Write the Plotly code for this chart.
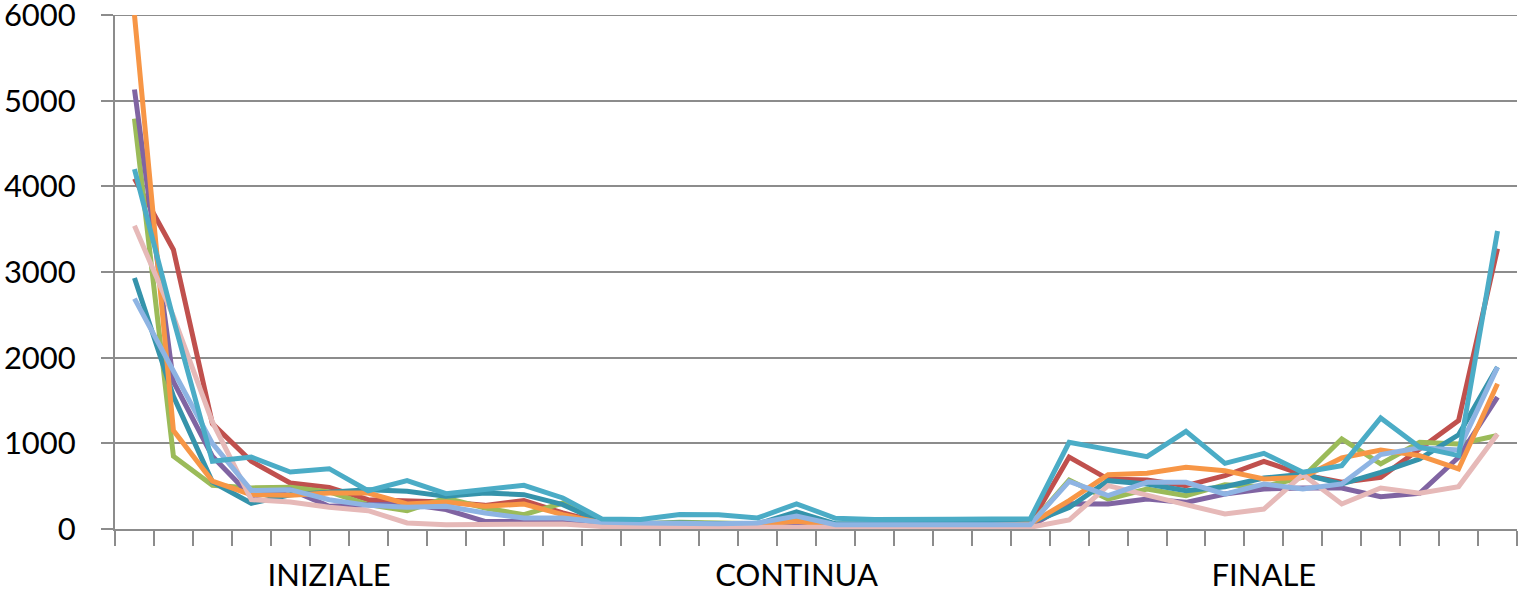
import plotly.graph_objects as go

phases = ["INIZIALE", "CONTINUA", "FINALE"]
points_per_phase = 12
y_ticks = [0, 1000, 2000, 3000, 4000, 5000, 6000]

red = [4090, 3260, 1230, 790, 537, 486, 342, 323, 315, 276, 331, 187,
       70, 50, 40, 40, 40, 60, 40, 40, 40, 40, 40, 60,
       840, 583, 572, 506, 622, 790, 635, 545, 604, 935, 1266, 3273]
green = [4790, 850, 510, 480, 486, 432, 284, 214, 362, 245, 167, 303,
         90, 60, 80, 70, 60, 100, 50, 40, 40, 40, 40, 50,
         572, 350, 467, 389, 517, 494, 604, 1052, 760, 1013, 993, 1091]
purple = [5130, 1720, 850, 380, 460, 265, 284, 292, 226, 89, 89, 89,
          40, 0, 0, 10, 20, 80, 30, 30, 30, 20, 20, 30,
          295, 292, 350, 311, 408, 467, 479, 479, 378, 417, 838, 1539]
darkteal = [2930, 1550, 550, 300, 400, 430, 459, 440, 381, 420, 401, 284,
            80, 60, 70, 60, 60, 200, 60, 60, 60, 60, 60, 70,
            250, 564, 525, 447, 494, 595, 640, 526, 662, 818, 1100, 1890]
orange = [6000, 1150, 560, 400, 393, 420, 420, 292, 315, 265, 292, 167,
          70, 60, 60, 50, 50, 90, 40, 40, 40, 40, 40, 60,
          331, 634, 650, 720, 681, 583, 604, 830, 923, 857, 701, 1695]
pink = [3540, 2480, 1250, 342, 315, 253, 214, 70, 51, 51, 58, 58,
        30, 20, 20, 20, 20, 20, 20, 20, 20, 0, 0, 20,
        105, 506, 389, 284, 175, 233, 635, 292, 479, 417, 495, 1110]
lightblue = [2690, 1850, 1000, 450, 459, 342, 276, 253, 265, 187, 128, 128,
             80, 70, 60, 60, 70, 150, 50, 50, 50, 40, 40, 50,
             556, 389, 545, 545, 408, 525, 467, 526, 869, 947, 923, 1890]
cyan = [4200, 2450, 790, 840, 665, 704, 447, 564, 412, 459, 510, 362,
        118, 110, 169, 165, 129, 294, 125, 110, 118, 114, 118, 118,
        1011, 934, 844, 1140, 766, 883, 662, 740, 1297, 955, 857, 3479]

series = [
    ("Serie 1", red, "#C0504D"),
    ("Serie 2", green, "#9BBB59"),
    ("Serie 3", purple, "#8064A2"),
    ("Serie 4", darkteal, "#3593AB"),
    ("Serie 5", orange, "#F79646"),
    ("Serie 6", pink, "#E6B9B8"),
    ("Serie 7", lightblue, "#8EB4E3"),
    ("Serie 8", cyan, "#4BACC6"),
]

n = len(phases) * points_per_phase
x = list(range(n))

fig = go.Figure()
for name, vals, col in series:
    fig.add_trace(go.Scatter(x=x, y=vals, mode="lines", name=name,
                             line=dict(color=col, width=5)))

grid = "#8C8C8C"
font_family = "Lato, 'Open Sans', sans-serif"
label_pos = [i * points_per_phase + points_per_phase // 2 - 1 for i in range(len(phases))]

fig.update_layout(
    width=1518, height=592,
    margin=dict(l=115, r=1, t=15, b=63),
    paper_bgcolor="white", plot_bgcolor="white",
    showlegend=False,
    font=dict(family=font_family, size=31, color="black"),
    shapes=[dict(type="line", xref="paper", yref="y", x0=0, x1=1,
                 y0=y_ticks[-1], y1=y_ticks[-1], layer="below",
                 line=dict(color=grid, width=2))],
)
fig.update_xaxes(
    range=[-0.5, n - 0.5], automargin=False,
    tickmode="array", tickvals=label_pos, ticktext=phases,
    tickfont=dict(size=31),
    ticks="", showgrid=False, zeroline=False,
    showline=True, linecolor=grid, linewidth=2,
    ticklabelstandoff=18, ticklabeloverflow="allow",
    minor=dict(ticks="outside", ticklen=15, tickcolor=grid, tickwidth=2,
               tick0=-0.5, dtick=1, showgrid=False),
)
fig.update_yaxes(
    range=[0, 6000], automargin=False, tickmode="array", tickvals=y_ticks,
    showgrid=True, gridcolor=grid, gridwidth=2,
    zeroline=False, showline=True, linecolor=grid, linewidth=2,
    ticks="outside", ticklen=12, tickcolor=grid, tickwidth=2,
    ticklabelstandoff=19, ticklabeloverflow="allow",
)

fig.write_html("out.html",
               config=dict(displayModeBar=False),
               post_script="document.body.style.margin='0';document.body.style.overflow='hidden';")
